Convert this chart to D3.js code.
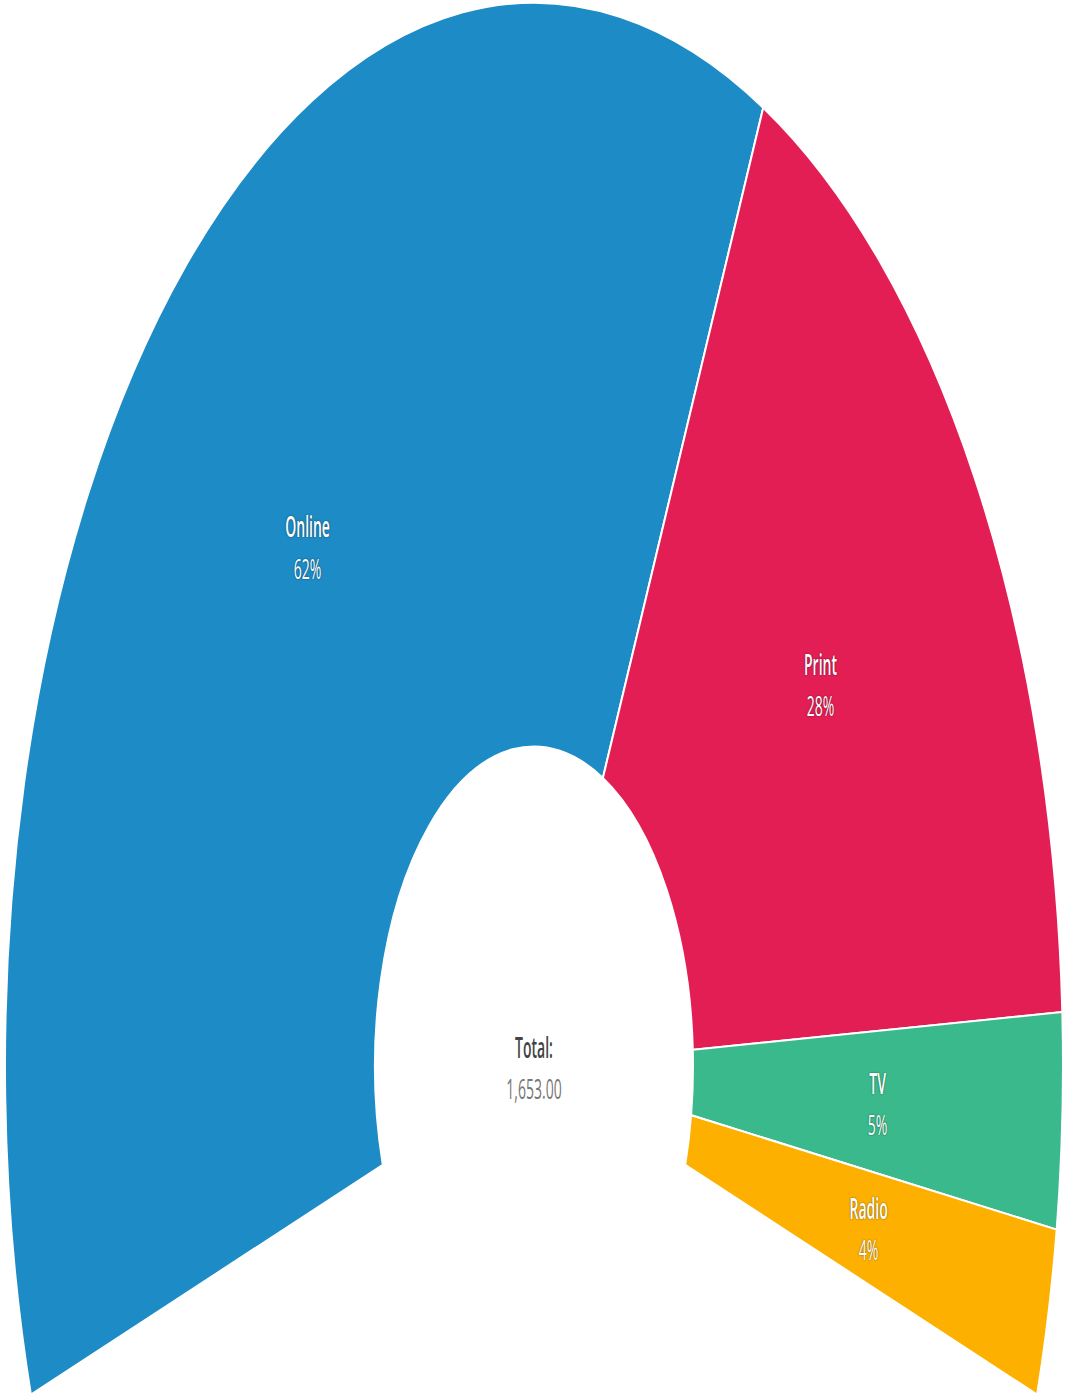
<!DOCTYPE html>
<html><head><meta charset="utf-8">
<script src="https://cdn.jsdelivr.net/npm/d3@7"></script>
<style>
html,body{margin:0;padding:0;background:#fff;}
text{font-family:"Open Sans",sans-serif;}
</style></head>
<body>
<svg id="chart" width="1065" height="1399"></svg>
<script>
const categories = ["Online", "Print", "TV", "Radio"];
const values = [1023, 470, 90, 70];
const colors = ["#1d8bc6", "#e21e55", "#3aba8c", "#fdb000"];
const totalLabel = "Total:";

const W = 1065, H = 1399;
const cx = 534, cy = 1066, sy = 2.01;
const innerR = 159, outerR = 529;
const startA = -108 * Math.PI / 180, endA = 108 * Math.PI / 180;

const data = categories.map((c, i) => ({ name: c, value: values[i], color: colors[i] }));
const total = d3.sum(values);

const pie = d3.pie().value(d => d.value).sort(null).startAngle(startA).endAngle(endA);
const arc = d3.arc().innerRadius(innerR).outerRadius(outerR);

const svg = d3.select("#chart");
const g = svg.append("g").attr("transform", `translate(${cx},${cy}) scale(1,${sy})`);

const arcs = pie(data);
g.selectAll("path").data(arcs).join("path")
  .attr("d", arc)
  .attr("fill", d => d.data.color)
  .attr("stroke", "#fff")
  .attr("stroke-width", 2)
  .attr("vector-effect", "non-scaling-stroke");

const fmtPct = d3.format(".0%");
const lbl = g.selectAll("g.lbl").data(arcs).join("g").attr("class", "lbl")
  .attr("transform", d => { const c = arc.centroid(d); return `translate(${c[0]},${c[1]})`; });
lbl.append("text").attr("text-anchor", "middle").attr("y", -4)
  .attr("font-size", 14).attr("font-weight", 600).attr("fill", "#fff")
  .style("text-shadow", "0 0 2px rgba(0,0,0,0.6)")
  .text(d => d.data.name);
lbl.append("text").attr("text-anchor", "middle").attr("y", 16.5)
  .attr("font-size", 14).attr("fill", "#fff")
  .style("text-shadow", "0 0 2px rgba(0,0,0,0.6)")
  .text(d => fmtPct(d.data.value / total));

g.append("text").attr("text-anchor", "middle").attr("y", -4)
  .attr("font-size", 14).attr("font-weight", 600).attr("fill", "#444")
  .text(totalLabel);
g.append("text").attr("text-anchor", "middle").attr("y", 16.5)
  .attr("font-size", 14).attr("fill", "#777")
  .text(d3.format(",.2f")(total));
</script>
</body></html>
